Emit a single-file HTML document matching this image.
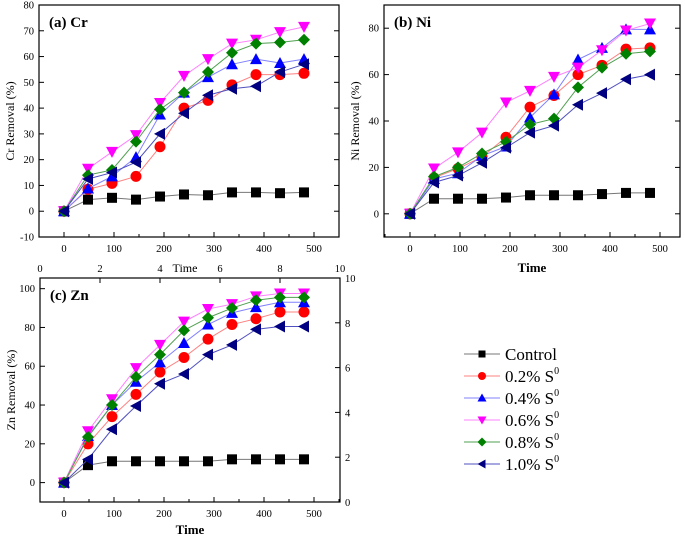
<!DOCTYPE html>
<html><head><meta charset="utf-8"><style>
body{margin:0;background:#fff;}
svg{display:block;font-family:"Liberation Serif",serif;}
</style></head><body>
<svg id="c" width="685" height="538"></svg>
<script>
const times=[0,48,96,144,192,240,288,336,384,432,480];
const seriesNames=["Control","0.2% S","0.4% S","0.6% S","0.8% S","1.0% S"];
const crControl=[0,4.5,5.2,4.5,5.7,6.5,6.2,7.3,7.3,7,7.3];
const cr02=[0,8.5,10.8,13.5,25,40,43,49,53,53,53.5];
const cr04=[0,8.8,13.5,21,37.5,46,52,57,59,57.5,59];
const cr06=[0,16.5,23,29.5,42,52.5,59,65,66.5,69.5,71.5];
const cr08=[0,14,16,27,39.5,46,54,61.5,65,65.5,66.5];
const cr10=[0,12.5,15,19,30,38,45,47.5,48.5,54,57];
const niControl=[0,6.5,6.5,6.5,7,8,8,8,8.5,9,9];
const ni02=[0,15.5,19.5,24.5,33,46,51,60,64,71,71.5];
const ni04=[0,15,17.5,25,29,41.5,51.5,66.5,71.5,79.5,79.5];
const ni06=[0,19.5,26.5,35,48,53,59,63,70.5,79,82];
const ni08=[0,16,20,26,31,38.5,41,54.5,63,69,70];
const ni10=[0,13.5,16.5,22,28.5,35,38,47,52,58,60];
const znControl=[0,9,11,11,11,11,11,12,12,12,12];
const zn02=[0,20,34,45.5,57,64.5,74,81.5,84.5,88,88];
const zn04=[0,24,40,52,62,72,81.5,87.5,90.5,93,93];
const zn06=[0,26.5,43,59,71,83,89.5,92,96,97.5,97.5];
const zn08=[0,23.5,40,54.5,66,78.5,85,90,94,95.5,95.5];
const zn10=[0,12,27.5,39.5,51,56,66,71,79,80.5,80.5];
const xTicks=[0,100,200,300,400,500];
const crTicks=[-10,0,10,20,30,40,50,60,70,80];
const niTicks=[0,20,40,60,80];
const znTicks=[0,20,40,60,80,100];
const auxTicks=[0,2,4,6,8,10];

const NS="http://www.w3.org/2000/svg";
const svg=document.getElementById('c');
function mk(tag,attrs,parent,name){const e=document.createElementNS(NS,tag);for(const k in attrs)e.setAttribute(k,attrs[k]);


(parent||svg).appendChild(e);return e;}
const lineCols=["#777","#ff8080","#8080ff","#ff80ff","#50a050","#5050c0"];
const markCols=["#000","#ff0000","#0000ff","#ff00ff","#008000","#000080"];
function marker(g,type,x,y,i,s){
  s=s||5;let e;
  if(type===0)e=mk('rect',{x:x-s,y:y-s,width:2*s,height:2*s,fill:markCols[i]},g,'marker-square');
  else if(type===1)e=mk('circle',{cx:x,cy:y,r:s+0.5,fill:markCols[i]},g,'marker-circle');
  else if(type===2)e=mk('polygon',{points:`${x},${y-s-1} ${x-s-1},${y+s} ${x+s+1},${y+s}`,fill:markCols[i]},g,'marker-triangle-up');
  else if(type===3)e=mk('polygon',{points:`${x},${y+s+1} ${x-s-1},${y-s} ${x+s+1},${y-s}`,fill:markCols[i]},g,'marker-triangle-down');
  else if(type===4)e=mk('polygon',{points:`${x},${y-s-1} ${x+s+1},${y} ${x},${y+s+1} ${x-s-1},${y}`,fill:markCols[i]},g,'marker-diamond');
  else e=mk('polygon',{points:`${x-s-1},${y} ${x+s},${y-s-1} ${x+s},${y+s+1}`,fill:markCols[i]},g,'marker-triangle-left');
}
function panel(o){
  const g=mk('g',{},svg,o.name);
  const X=v=>o.x0+(v-o.xmin)/(o.xmax-o.xmin)*(o.x1-o.x0);
  const Y=v=>o.y1-(v-o.ymin)/(o.ymax-o.ymin)*(o.y1-o.y0);
  mk('rect',{x:o.x0,y:o.y0,width:o.x1-o.x0,height:o.y1-o.y0,fill:'none',stroke:'#000','stroke-width':1.2},g,'plot-frame');
  xTicks.forEach(t=>{const x=X(t);
    mk('line',{x1:x,x2:x,y1:o.y1,y2:o.y1-5,stroke:'#000'},g,'x-tick');
    const tx=mk('text',{x:x,y:o.y1+15,'font-size':10.5,'text-anchor':'middle'},g,'x-tick-label');tx.textContent=t;});
  [-50,50,150,250,350,450,550].forEach(t=>{const x=X(t);if(x>o.x0&&x<o.x1)mk('line',{x1:x,x2:x,y1:o.y1,y2:o.y1-3,stroke:'#000'},g,'x-minor-tick');});
  o.yt.forEach(t=>{const y=Y(t);
    mk('line',{x1:o.x0,x2:o.x0+5,y1:y,y2:y,stroke:'#000'},g,'y-tick');
    if(!o.right)mk('line',{x1:o.x1,x2:o.x1-5,y1:y,y2:y,stroke:'#000'},g,'y-tick-right');
    const tx=mk('text',{x:o.x0-5,y:y+3.5,'font-size':10.5,'text-anchor':'end'},g,'y-tick-label');tx.textContent=t;});
  const yl=mk('text',{x:0,y:0,'font-size':12,'text-anchor':'middle',transform:`translate(${o.x0-25},${(o.y0+o.y1)/2}) rotate(-90)`},g,'y-axis-title');yl.textContent=o.ylabel;
  if(o.xlabelY){const xl=mk('text',{x:(o.x0+o.x1)/2,y:o.xlabelY,'font-size':13,'font-weight':'bold','text-anchor':'middle'},g,'x-axis-title');xl.textContent='Time';}
  const tt=mk('text',{x:o.x0+10,y:o.y0+22,'font-size':15,'font-weight':'bold'},g,'panel-title');tt.textContent=o.title;
  o.data.forEach((d,i)=>{
    const sg=mk('g',{},g,'series-'+i);
    mk('polyline',{points:d.map((v,j)=>X(times[j])+','+Y(v)).join(' '),fill:'none',stroke:lineCols[i],'stroke-width':1},sg,'series-line');
    d.forEach((v,j)=>marker(sg,i,X(times[j]),Y(v),i));
  });
  return {X,Y};
}
panel({name:'panel-cr',x0:39,x1:339,y0:5,y1:237,xmin:-50,xmax:550,ymin:-10,ymax:80,yt:crTicks,ylabel:'Cr Removal (%)',title:'(a) Cr',data:[crControl,cr02,cr04,cr06,cr08,cr10]});
panel({name:'panel-ni',x0:384,x1:680,y0:5,y1:237,xmin:-52,xmax:540,ymin:-10,ymax:90,yt:niTicks,ylabel:'Ni Removal (%)',title:'(b) Ni',xlabelY:272,data:[niControl,ni02,ni04,ni06,ni08,ni10]});
panel({name:'panel-zn',x0:40,x1:340,y0:278,y1:502,xmin:-48,xmax:552,ymin:-10,ymax:105.5,yt:znTicks,ylabel:'Zn Removal (%)',title:'(c) Zn',xlabelY:534,right:true,data:[znControl,zn02,zn04,zn06,zn08,zn10]});
// auxiliary top and right axes of panel c
const ag=mk('g',{},svg,'auxiliary-axes');
auxTicks.forEach(t=>{const x=40+t*30;
  const tx=mk('text',{x:x,y:272,'font-size':10.5,'text-anchor':'middle'},ag,'top-axis-label');tx.textContent=t;
  mk('line',{x1:x,x2:x,y1:278,y2:283,stroke:'#000'},ag,'top-tick');
  const y=502-t*22.4;
  const ty=mk('text',{x:345,y:y+4,'font-size':10.5},ag,'right-axis-label');ty.textContent=t;
  mk('line',{x1:340,x2:335,y1:y,y2:y,stroke:'#000'},ag,'right-tick');});
const tt=mk('text',{x:185,y:272,'font-size':12,'text-anchor':'middle'},ag,'top-axis-title');tt.textContent='Time';
// legend
const lg=mk('g',{},svg,'legend');
seriesNames.forEach((n,i)=>{const y=354+i*22;
  const e=mk('g',{},lg,'legend-entry');
  mk('line',{x1:464,x2:500,y1:y,y2:y,stroke:lineCols[i]},e,'legend-line');
  marker(e,i,482,y,i,3.5);
  const t=mk('text',{x:505,y:y+6,'font-size':17},e,'legend-label');t.textContent=n;
  if(i>0){const s=mk('tspan',{'font-size':10,dy:-8},t,'superscript');s.textContent='0';}
});
</script>
</body></html>
